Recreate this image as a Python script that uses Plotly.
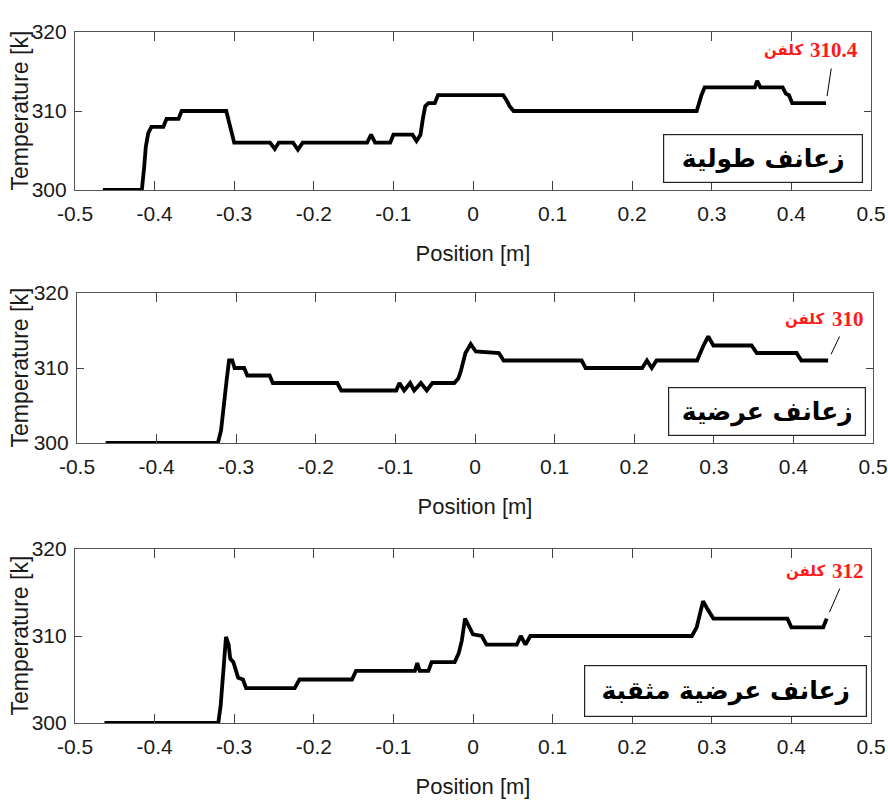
import plotly.graph_objects as go

# ---------------- data ----------------
pos_long = [-0.465, -0.416, -0.413, -0.411, -0.408, -0.404, -0.389, -0.385, -0.370, -0.366,
            -0.310, -0.300, -0.255, -0.249, -0.244, -0.226, -0.220, -0.214, -0.133, -0.128,
            -0.123, -0.104, -0.100, -0.076, -0.071, -0.066, -0.063, -0.060, -0.056, -0.048,
            -0.044, 0.038, 0.043, 0.046, 0.051, 0.281, 0.287, 0.291, 0.354, 0.357,
            0.361, 0.389, 0.393, 0.397, 0.401, 0.4435]
temp_long = [300, 300, 303, 305.5, 307.2, 308, 308, 309, 309, 310,
             310, 306, 306, 305.2, 306, 306, 305.1, 306, 306, 307,
             306, 306, 307, 307, 306.2, 307, 309, 310.6, 311, 311,
             312, 312, 311.2, 310.6, 310, 310, 312, 313, 313, 313.8,
             313, 313, 312.2, 312, 311, 311]

pos_trans = [-0.464, -0.323, -0.319, -0.315, -0.312, -0.309, -0.305, -0.302, -0.290, -0.286,
             -0.258, -0.254, -0.173, -0.168, -0.099, -0.095, -0.089, -0.0815, -0.0764, -0.068,
             -0.0606, -0.0535, -0.026, -0.021, -0.018, -0.012, -0.0054, 0.001, 0.030, 0.036,
             0.134, 0.139, 0.210, 0.216, 0.222, 0.228, 0.279, 0.287, 0.293, 0.2995,
             0.3475, 0.354, 0.404, 0.410, 0.4436]
temp_trans = [300, 300, 301.7, 305, 308.4, 311, 311, 310, 310, 309,
              309, 308, 308, 307, 307, 308, 307, 308, 307, 308,
              307, 308, 308, 308.6, 309.5, 312, 313.2, 312.2, 312, 311,
              311, 310, 310, 311, 310, 311, 311, 313, 314.2, 313,
              313, 312, 312, 311, 311]

pos_perf = [-0.463, -0.320, -0.317, -0.314, -0.3103, -0.307, -0.305, -0.301, -0.297, -0.295,
            -0.289, -0.285, -0.224, -0.218, -0.152, -0.147, -0.073, -0.070, -0.067, -0.056,
            -0.052, -0.023, -0.018, -0.014, -0.010, -0.004, 0.000, 0.011, 0.017, 0.055,
            0.060, 0.066, 0.072, 0.275, 0.281, 0.285, 0.289, 0.294, 0.302, 0.395,
            0.400, 0.440, 0.4443]
temp_perf = [300, 300, 302, 306, 309.9, 309, 307.4, 307, 305.5, 305.2,
             305, 304, 304, 305, 305, 306, 306, 306.9, 306, 306,
             307, 307, 308, 309.5, 312, 311, 310.2, 310, 309, 309,
             310, 309, 310, 310, 311, 312.5, 314, 313.2, 312, 312,
             311, 311, 312]

panel_titles = ["زعانف طولية", "زعانف عرضية", "زعانف عرضية مثقبة"]
end_values = ["310.4", "310", "312"]
unit_word = "كلفن"
x_title = "Position [m]"
y_title = "Temperature [k]"
x_ticks = [-0.5, -0.4, -0.3, -0.2, -0.1, 0, 0.1, 0.2, 0.3, 0.4, 0.5]
x_tick_text = ["-0.5", "-0.4", "-0.3", "-0.2", "-0.1", "0", "0.1", "0.2", "0.3", "0.4", "0.5"]
y_ticks = [300, 310, 320]

series = [(pos_long, temp_long), (pos_trans, temp_trans), (pos_perf, temp_perf)]

# ---------------- layout ----------------
W, H = 888, 801
# plot boxes in pixels (left, right, top, bottom)
boxes = [(75, 871, 32, 190), (77, 873, 293, 443), (75, 871, 549, 723)]
# legend boxes (left, right, top, bottom)
label_boxes = [(663, 863, 134, 183), (668, 866, 387, 436), (584, 867, 665, 717)]
# offsets (pixels) of the red value text centre and of the unit word's right edge
value_offsets = [(8, -53), (20, -42), (21, -48)]
word_shifts = [(-21, 53), (-2, 42), (0, 48)]
ytitle_x = 19.5

FONT = "Liberation Sans, Arial"
TICK_FONT = dict(family=FONT, size=21, color="#1a1a1a")
RED = "#ff1a1a"

fig = go.Figure()
layout = dict(template="none", width=W, height=H, autosize=False,
              margin=dict(l=0, r=0, t=0, b=0, autoexpand=False),
              paper_bgcolor="white", plot_bgcolor="white", showlegend=False)
annotations = []

for i, ((px, ty), (l, r, t, b)) in enumerate(zip(series, boxes)):
    n = "" if i == 0 else str(i + 1)
    xa, ya = "x" + n, "y" + n
    fig.add_trace(go.Scatter(x=px, y=ty, mode="lines", xaxis=xa, yaxis=ya,
                             line=dict(color="black", width=3.8), hoverinfo="skip"))
    common = dict(showline=True, mirror="ticks", linecolor="#555", linewidth=1.2,
                  ticks="inside", tickcolor="#444", tickwidth=1.2, showgrid=False,
                  zeroline=False, tickfont=TICK_FONT, automargin=False,
                  ticklabeloverflow="allow")
    layout["xaxis" + n] = dict(domain=[l / W, r / W], anchor=ya, range=[-0.5, 0.5],
                               tickvals=x_ticks, ticktext=x_tick_text, ticklen=9,
                               ticklabelstandoff=5,
                               title=dict(text=x_title, standoff=21,
                                          font=dict(family=FONT, size=22, color="#1a1a1a")),
                               **common)
    layout["yaxis" + n] = dict(domain=[1 - b / H, 1 - t / H], anchor=xa, range=[300, 320],
                               tickvals=y_ticks, ticklen=7, ticklabelstandoff=3,
                               **common)
    # y-axis title
    annotations.append(dict(x=ytitle_x / W, y=1 - (t + b) / 2 / H, xref="paper", yref="paper",
                            text=y_title, textangle=-90, showarrow=False,
                            xanchor="center", yanchor="middle",
                            font=dict(family=FONT, size=23, color="#1a1a1a")))
    # end-value label with leader line
    ax_off, ay_off = value_offsets[i]
    annotations.append(dict(x=px[-1], y=ty[-1], xref=xa, yref=ya, text="<b>" + end_values[i] + "</b>",
                            showarrow=True, arrowhead=0, arrowwidth=1, arrowcolor="black",
                            ax=ax_off, ay=ay_off, standoff=7, startstandoff=5,
                            font=dict(family="Liberation Serif, Times New Roman", size=21, color=RED),
                            xanchor="center", yanchor="middle"))
    wx, wy = word_shifts[i]
    annotations.append(dict(x=px[-1], y=ty[-1], xref=xa, yref=ya, text="<b>" + unit_word + "</b>",
                            showarrow=False, xanchor="right", yanchor="middle",
                            xshift=wx, yshift=wy,
                            font=dict(family="DejaVu Sans", size=15, color=RED)))
    # panel label box
    bl, br, bt, bb = label_boxes[i]
    annotations.append(dict(x=(bl + br) / 2 / W, y=1 - (bt + bb) / 2 / H, xref="paper", yref="paper",
                            text="<b>" + panel_titles[i] + "</b>", showarrow=False,
                            xanchor="center", yanchor="middle",
                            width=br - bl - 4, height=bb - bt - 4, borderpad=1,
                            bordercolor="#222", borderwidth=1.2, bgcolor="white",
                            font=dict(family="DejaVu Sans", size=25, color="black")))

layout["annotations"] = annotations
fig.update_layout(**layout)
fig.write_html("out.html", config={"displayModeBar": False},
               post_script="document.body.style.margin='0';document.body.style.overflow='hidden';")
